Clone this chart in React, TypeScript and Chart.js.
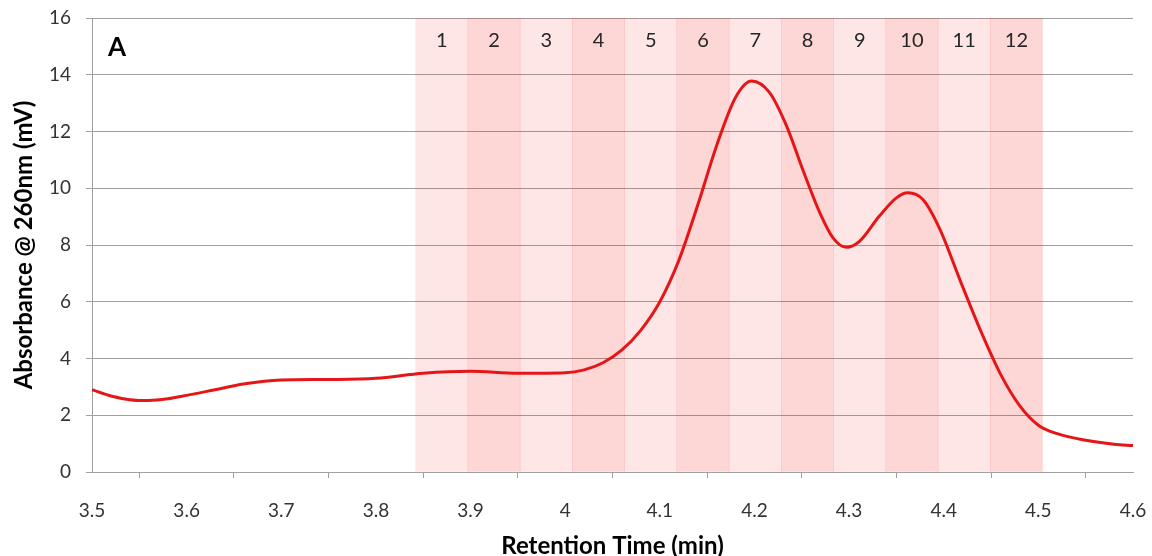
import { useEffect, useRef } from 'react';
import { Chart, registerables } from 'chart.js';

Chart.register(...registerables);

// Chromatogram trace: retention time (min) vs absorbance at 260 nm (mV)
const retentionTime = [
  3.5, 3.52, 3.54, 3.56, 3.58, 3.6, 3.63, 3.66, 3.7, 3.75, 3.8, 3.85, 3.9, 3.95, 4.0,
  4.02, 4.04, 4.06, 4.08, 4.1, 4.12, 4.14, 4.16, 4.18, 4.197, 4.216, 4.234, 4.251, 4.269,
  4.283, 4.297, 4.311, 4.332, 4.35, 4.362, 4.378, 4.396, 4.417, 4.44, 4.46, 4.48, 4.5,
  4.52, 4.55, 4.58, 4.6,
];
const absorbance = [
  2.9, 2.68, 2.55, 2.52, 2.58, 2.7, 2.9, 3.1, 3.24, 3.26, 3.3, 3.48, 3.55, 3.48, 3.5,
  3.6, 3.85, 4.3, 5.0, 6.0, 7.45, 9.4, 11.5, 13.2, 13.78, 13.37, 12.19, 10.66, 9.14,
  8.25, 7.92, 8.13, 9.02, 9.66, 9.84, 9.6, 8.55, 6.78, 4.9, 3.45, 2.35, 1.65,
  1.35, 1.12, 0.98, 0.93,
];

// Collected fractions (shaded bands) with their centres on the time axis
const fractionLabels = ['1', '2', '3', '4', '5', '6', '7', '8', '9', '10', '11', '12'];
const fractionCenters = [
  3.8696, 3.9248, 3.98, 4.0352, 4.0904, 4.1456, 4.2008, 4.256, 4.3112, 4.3664, 4.4216, 4.4768,
];
const fractionTop = 16;
const fractionLabelY = 15.2;

const xTicks = [3.5, 3.6, 3.7, 3.8, 3.9, 4.0, 4.1, 4.2, 4.3, 4.4, 4.5, 4.6];
const yMin = 0;
const yMax = 16;
const yStep = 2;

const panelLabel = 'A';

const FONT = 'Lato, "Open Sans", "DejaVu Sans", sans-serif';
const GRID = '#A0A0A0';

const bandLabelsPlugin = {
  id: 'bandLabels',
  afterDatasetsDraw(chart: any) {
    const { ctx, scales } = chart;
    const x = scales.x;
    const y = scales.y;
    ctx.save();
    ctx.fillStyle = '#262626';
    ctx.font = `20px ${FONT}`;
    ctx.textAlign = 'center';
    ctx.textBaseline = 'middle';
    fractionLabels.forEach((lab, i) => {
      ctx.fillText(lab, x.getPixelForValue(fractionCenters[i]), y.getPixelForValue(fractionLabelY));
    });
    ctx.fillStyle = '#000';
    ctx.font = `bold 26px ${FONT}`;
    ctx.textAlign = 'left';
    ctx.fillText(panelLabel, x.getPixelForValue(3.517), y.getPixelForValue(14.95));
    ctx.restore();
  },
};

export default function App() {
  const ref = useRef<HTMLCanvasElement | null>(null);

  useEffect(() => {
    if (!ref.current) return;
    const chart = new Chart(ref.current, {
      type: 'line',
      data: {
        datasets: [
          {
            type: 'line',
            label: 'Absorbance',
            data: retentionTime.map((t, i) => ({ x: t, y: absorbance[i] })),
            borderColor: 'rgb(230, 22, 24)',
            borderWidth: 3,
            pointRadius: 0,
            fill: false,
            cubicInterpolationMode: 'monotone',
            order: 0,
          } as any,
          {
            type: 'bar',
            label: 'Fractions',
            data: fractionCenters.map((c) => ({ x: c, y: fractionTop })),
            backgroundColor: fractionCenters.map((_, i) =>
              i % 2 === 0 ? 'rgba(250, 20, 25, 0.105)' : 'rgba(245, 20, 25, 0.175)'
            ),
            borderWidth: 0,
            barPercentage: 1,
            categoryPercentage: 1,
            order: 1,
          } as any,
        ],
      },
      options: {
        animation: false,
        responsive: true,
        maintainAspectRatio: false,
        layout: { padding: { left: 0, right: 19, top: 18, bottom: 0 } },
        plugins: {
          legend: { display: false },
          tooltip: { enabled: false },
        },
        scales: {
          x: {
            type: 'linear',
            min: 3.5,
            max: 4.6,
            offset: false,
            afterBuildTicks: (s: any) => {
              s.ticks = xTicks.map((v) => ({ value: v }));
            },
            afterFit: (s: any) => {
              s.height = 84;
              s.paddingLeft = 0;
              s.paddingRight = 0;
            },
            ticks: {
              font: { family: FONT, size: 19 },
              color: '#333',
              padding: 21,
              maxRotation: 0,
              autoSkip: false,
              callback: (v: any) => String(Number(Number(v).toFixed(1))),
            },
            grid: {
              drawOnChartArea: false,
              drawTicks: true,
              tickLength: 6,
              color: GRID,
            },
            border: { color: GRID },
            title: {
              display: true,
              text: 'Retention Time (min)',
              font: { family: FONT, size: 24, weight: 'bold', lineHeight: 0.85 },
              color: '#000',
              padding: { top: 0, bottom: 0 },
            },
          },
          y: {
            type: 'linear',
            min: yMin,
            max: yMax,
            afterFit: (s: any) => {
              s.width = 92;
              s.paddingTop = 0;
              s.paddingBottom = 0;
            },
            ticks: {
              stepSize: yStep,
              font: { family: FONT, size: 19 },
              color: '#333',
              padding: 15,
            },
            grid: {
              color: GRID,
              tickLength: 6,
            },
            border: { color: GRID },
            title: {
              display: true,
              text: 'Absorbance @ 260nm (mV)',
              font: { family: FONT, size: 24, weight: 'bold', lineHeight: 1.0 },
              color: '#000',
              padding: { top: 12, bottom: 0 },
            },
          },
        },
      },
      plugins: [bandLabelsPlugin],
    } as any);
    return () => chart.destroy();
  }, []);

  return (
    <div style={{ position: 'absolute', left: 0, top: 0, width: 1152, height: 556 }}>
      <canvas ref={ref} />
    </div>
  );
}
